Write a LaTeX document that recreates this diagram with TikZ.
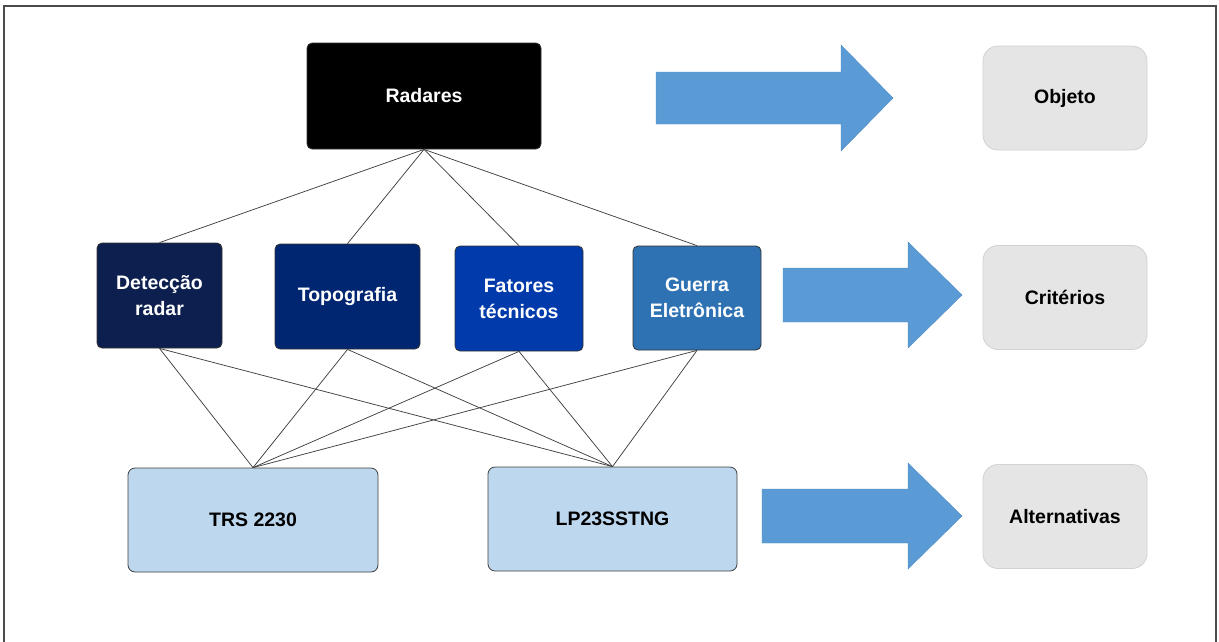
\documentclass[tikz,border=0pt]{standalone}
\usepackage{fontspec}
\setmainfont{Liberation Sans}
\definecolor{cdet}{HTML}{0C1F4E}
\definecolor{ctop}{HTML}{002672}
\definecolor{cfat}{HTML}{003AAB}
\definecolor{cgue}{HTML}{2E72B3}
\definecolor{calt}{HTML}{BDD7EE}
\definecolor{cgray}{HTML}{E5E5E5}
\definecolor{cgrayb}{HTML}{D2D2D2}
\definecolor{carrow}{HTML}{5B9BD5}
\definecolor{carrowb}{HTML}{4F8CC5}
\tikzset{
  txt/.style={font=\bfseries\fontsize{19.5}{26}\selectfont, align=center, inner sep=0pt},
  darkbox/.style={txt, draw=black!80, line width=0.8pt, rounded corners=5pt, text=white},
  altbox/.style={txt, draw=black!75, line width=0.8pt, rounded corners=7pt, fill=calt, text=black},
  graybox/.style={txt, draw=cgrayb, line width=0.8pt, rounded corners=15pt, fill=cgray, text=black,
    minimum width=164, minimum height=104},
  link/.style={draw=black!75, line width=0.75pt},
  blockarrow/.style={fill=carrow, draw=carrowb, line width=0.4pt}
}
\begin{document}
\begin{tikzpicture}[x=1pt,y=-1pt]
\useasboundingbox (0,0) rectangle (1219,641);
\begin{scope}
\clip (0,0) rectangle (1219,641);
\draw[line width=1.4pt, black!70] (4,6) rectangle (1216,700);
\end{scope}

% top
\node[darkbox, fill=black, minimum width=234, minimum height=106] (rad) at (424,96) {Radares};

% criteria
\node[darkbox, fill=cdet, minimum width=125, minimum height=105] (det) at (159.5,295.5) {Detecção\\radar};
\node[darkbox, fill=ctop, minimum width=145, minimum height=105] (top) at (347.5,296.5) {Topografia};
\node[darkbox, fill=cfat, minimum width=128, minimum height=105] (fat) at (519,298.5) {Fatores\\técnicos};
\node[darkbox, fill=cgue, minimum width=128, minimum height=104] (gue) at (697,298) {Guerra\\Eletrônica};

% alternatives
\node[altbox, minimum width=250, minimum height=104] (trs) at (253,520) {TRS 2230};
\node[altbox, minimum width=249, minimum height=104] (lp) at (612.5,519) {LP23SSTNG};

% right column
\node[graybox] (obj) at (1065,98) {Objeto};
\node[graybox] (cri) at (1065,297.5) {Critérios};
\node[graybox] (alt) at (1065,516.5) {Alternativas};

% block arrows
\draw[blockarrow] (656,72) -- (841,72) -- (841,45) -- (893,98) -- (841,151) -- (841,124) -- (656,124) -- cycle;
\draw[blockarrow] (783,268) -- (908,268) -- (908,242) -- (962,295) -- (908,348) -- (908,322) -- (783,322) -- cycle;
\draw[blockarrow] (762,489) -- (908,489) -- (908,463) -- (962,516) -- (908,569) -- (908,543) -- (762,543) -- cycle;

% links top
\foreach \c in {det,top,fat,gue} {
  \draw[link] (rad.south) -- (\c.north);
}
% links bottom
\foreach \c in {det,top,fat,gue} {
  \draw[link] (\c.south) -- (trs.north);
  \draw[link] (\c.south) -- (lp.north);
}
\end{tikzpicture}
\end{document}
